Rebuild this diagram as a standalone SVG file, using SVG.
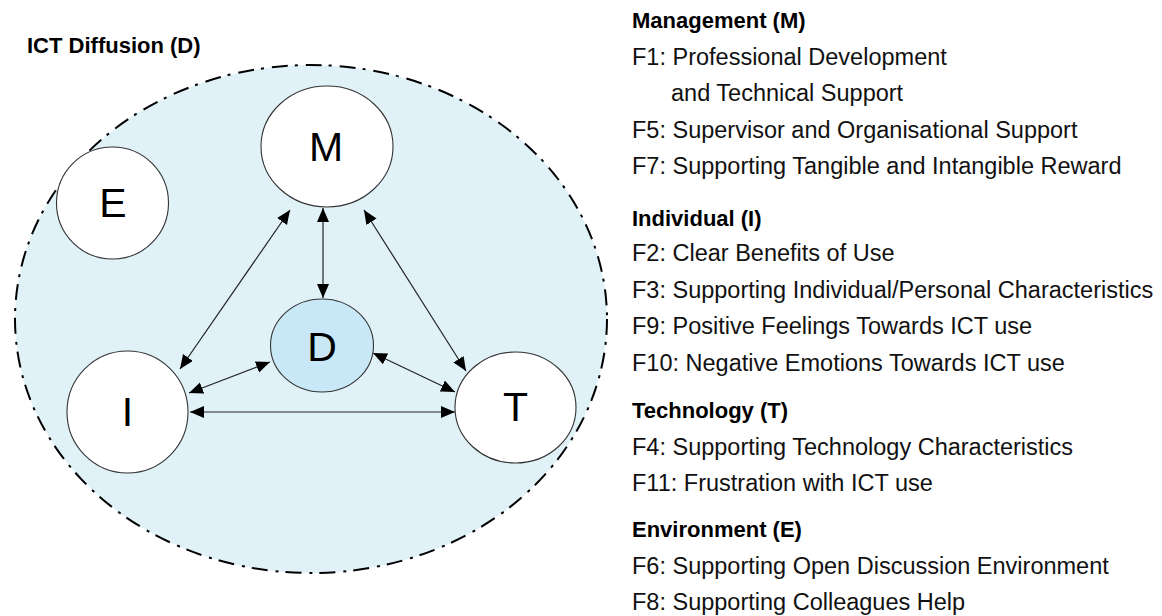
<svg xmlns="http://www.w3.org/2000/svg" width="1162" height="616" viewBox="0 0 1162 616">
  <style>
    .zone { fill: #e0f2f8; stroke: #000; stroke-width: 2; stroke-dasharray: 16 7 3 8; }
    .node { fill: #fff; stroke: #333; stroke-width: 1.1; }
    .core { fill: #c9e8f7; stroke: #333; stroke-width: 1.1; }
    .label { font-family: "Liberation Sans", Arial, sans-serif; font-size: 41px; fill: #000; text-anchor: middle; }
    .link { stroke: #222; stroke-width: 1.2; fill: none; marker-start: url(#head); marker-end: url(#head); }
    .title { font-family: "Liberation Sans", Arial, sans-serif; font-size: 22px; font-weight: bold; fill: #000; }
    .item { font-family: "Liberation Sans", Arial, sans-serif; font-size: 23.5px; fill: #111; }
  </style>
  <defs>
    <marker id="head" markerUnits="userSpaceOnUse" markerWidth="15" markerHeight="13" refX="14" refY="6" orient="auto-start-reverse">
      <path d="M0,0 L14,6 L0,12 z" fill="#000"/>
    </marker>
  </defs>

  <rect width="1162" height="616" fill="#fff"/>

  <!-- diffusion zone -->
  <g id="diffusion-zone">
    <text class="title" x="27" y="53">ICT Diffusion (D)</text>
    <ellipse class="zone" cx="311" cy="319" rx="296" ry="254"/>
  </g>

  <!-- connectors -->
  <g id="connectors">
    <line class="link" x1="323" y1="208" x2="323" y2="298"/>
    <line class="link" x1="290" y1="210" x2="180" y2="369"/>
    <line class="link" x1="364" y1="210" x2="466" y2="371"/>
    <line class="link" x1="189" y1="393" x2="270" y2="362"/>
    <line class="link" x1="373" y1="353" x2="455" y2="392"/>
    <line class="link" x1="190" y1="412" x2="455" y2="412"/>
  </g>

  <!-- nodes -->
  <g id="node-E">
    <ellipse class="node" cx="112.5" cy="203" rx="56" ry="56"/>
    <text class="label" x="113" y="217">E</text>
  </g>
  <g id="node-M">
    <ellipse class="node" cx="327" cy="146.5" rx="66" ry="60.5"/>
    <text class="label" x="326" y="161">M</text>
  </g>
  <g id="node-D">
    <ellipse class="core" cx="322" cy="345.5" rx="51.5" ry="46.5"/>
    <text class="label" x="322" y="361">D</text>
  </g>
  <g id="node-I">
    <ellipse class="node" cx="127.5" cy="412" rx="60.5" ry="61"/>
    <text class="label" x="127.5" y="426">I</text>
  </g>
  <g id="node-T">
    <ellipse class="node" cx="515.5" cy="407.5" rx="60.5" ry="55.5"/>
    <text class="label" x="515.5" y="421">T</text>
  </g>

  <!-- factor legend -->
  <g id="legend">
    <text class="title" x="632" y="28">Management (M)</text>
    <text class="item" x="632" y="64.5">F1: Professional Development</text>
    <text class="item" x="671" y="101">and Technical Support</text>
    <text class="item" x="632" y="137.5">F5: Supervisor and Organisational Support</text>
    <text class="item" x="632" y="174">F7: Supporting Tangible and Intangible Reward</text>

    <text class="title" x="632" y="225.5">Individual (I)</text>
    <text class="item" x="632" y="261">F2: Clear Benefits of Use</text>
    <text class="item" x="632" y="297.5">F3: Supporting Individual/Personal Characteristics</text>
    <text class="item" x="632" y="334">F9: Positive Feelings Towards ICT use</text>
    <text class="item" x="632" y="370.5">F10: Negative Emotions Towards ICT use</text>

    <text class="title" x="632" y="418">Technology (T)</text>
    <text class="item" x="632" y="454.5">F4: Supporting Technology Characteristics</text>
    <text class="item" x="632" y="491">F11: Frustration with ICT use</text>

    <text class="title" x="632" y="537">Environment (E)</text>
    <text class="item" x="632" y="573.5">F6: Supporting Open Discussion Environment</text>
    <text class="item" x="632" y="610">F8: Supporting Colleagues Help</text>
  </g>
</svg>
